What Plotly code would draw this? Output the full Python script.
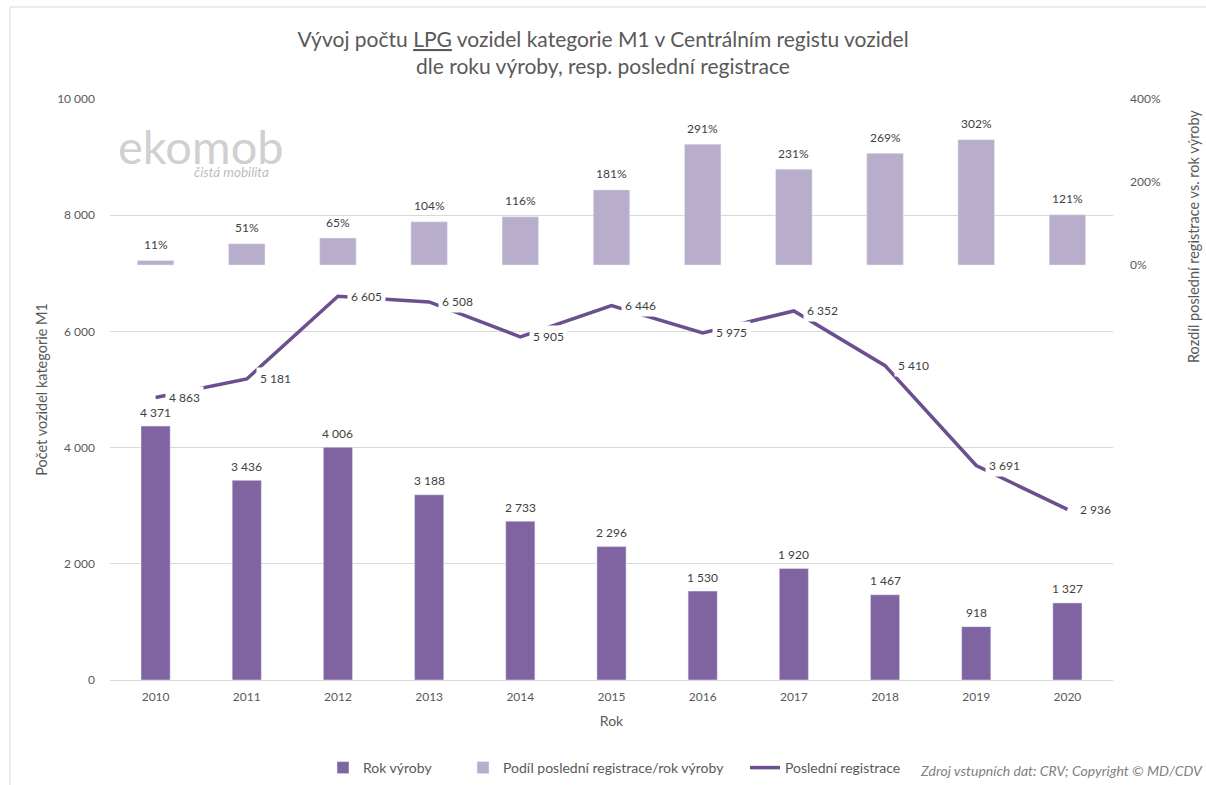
import plotly.graph_objects as go

years = ["2010", "2011", "2012", "2013", "2014", "2015", "2016", "2017", "2018", "2019", "2020"]
rok_vyroby = [4371, 3436, 4006, 3188, 2733, 2296, 1530, 1920, 1467, 918, 1327]
posledni_registrace = [4863, 5181, 6605, 6508, 5905, 6446, 5975, 6352, 5410, 3691, 2936]
podil = [11, 51, 65, 104, 116, 181, 291, 231, 269, 302, 121]
right_ticks = [0, 200, 400]

FONT = "Lato"
TXT = "#404040"
AX = "#595959"


def fmt(v):
    return f"{v:,}".replace(",", " ")


fig = go.Figure()

fig.add_trace(go.Bar(
    x=years, y=rok_vyroby, name="Rok výroby", yaxis="y", legend="legend", showlegend=True,
    marker=dict(color="#8064a2"), width=0.32,
))
fig.add_trace(go.Bar(
    x=years, y=podil, name="Podíl poslední registrace/rok výroby", yaxis="y2", legend="legend2",
    showlegend=True, marker=dict(color="#b8adcb"), width=0.4,
))
fig.add_trace(go.Scatter(
    x=years, y=posledni_registrace, name="Poslední registrace", yaxis="y", legend="legend3",
    showlegend=True, mode="lines", line=dict(color="#6b4f8f", width=3.5),
))

annotations = []
# bar value labels
for i, v in enumerate(rok_vyroby):
    annotations.append(dict(
        x=i, y=v, xref="x", yref="y", text=fmt(v), showarrow=False,
        xanchor="center", yanchor="middle", yshift=14,
        font=dict(family=FONT, size=12, color=TXT),
    ))
for i, v in enumerate(podil):
    annotations.append(dict(
        x=i, y=v, xref="x", yref="y2", text=f"{v}%", showarrow=False,
        xanchor="center", yanchor="middle", yshift=16,
        font=dict(family=FONT, size=12, color=TXT),
    ))
# line labels with white background
for i, v in enumerate(posledni_registrace):
    annotations.append(dict(
        x=i, y=v, xref="x", yref="y", text=fmt(v),
        showarrow=False, xanchor="left", yanchor="middle", xshift=9,
        bgcolor="white", borderpad=3,
        font=dict(family=FONT, size=12, color=TXT),
    ))

# right axis title
annotations.append(dict(
    xref="paper", yref="paper", x=(1193 - 110) / 1003, y=(680 - 237) / 581,
    text="Rozdíl poslední registrace vs. rok výroby", textangle=-90,
    showarrow=False, xanchor="center", yanchor="middle",
    font=dict(family=FONT, size=14.5, color=AX),
))
# watermark
annotations.append(dict(
    xref="paper", yref="paper", x=(116 - 110) / 1003, y=(680 - 146) / 581,
    text="ekomob", showarrow=False, xanchor="left", yanchor="middle",
    font=dict(family=FONT, size=47, color="#d0d0d0"),
))
annotations.append(dict(
    xref="paper", yref="paper", x=(192 - 110) / 1003, y=(680 - 172) / 581,
    text="<i>čistá mobilita</i>", showarrow=False, xanchor="left", yanchor="middle",
    font=dict(family=FONT, size=13.5, color="#bdbdbd"),
))
# source
annotations.append(dict(
    xref="paper", yref="paper", x=(1205 - 110) / 1003, y=(680 - 770) / 581,
    text="<i>Zdroj vstupních dat: CRV; Copyright © MD/CDV</i>", showarrow=False,
    xanchor="right", yanchor="middle",
    font=dict(family=FONT, size=14, color="#7f7f7f"),
))

legend_common = dict(
    orientation="h", xanchor="left", y=(680 - 768) / 581, yanchor="middle",
    font=dict(family=FONT, size=14, color=AX), bgcolor="rgba(0,0,0,0)",
)

fig.update_layout(
    width=1206, height=785,
    margin=dict(l=110, r=93, t=99, b=105, autoexpand=False),
    paper_bgcolor="white", plot_bgcolor="white",
    separators=", ",
    barmode="overlay",
    showlegend=True,
    font=dict(family=FONT, size=12, color=AX),
    title=dict(
        text="Vývoj počtu <span style='text-decoration:underline'>LPG</span> vozidel kategorie M1 v Centrálním registu vozidel<br>dle roku výroby, resp. poslední registrace",
        x=0.5, xanchor="center", y=(785 - 47) / 785, yanchor="middle",
        font=dict(family=FONT, size=21, color=AX),
    ),
    xaxis=dict(
        type="category", range=[-0.5, 10.5], showgrid=False, showline=True,
        linecolor="#d9d9d9", linewidth=1,
        ticks="", ticklabelstandoff=6, tickfont=dict(family=FONT, size=12, color=AX),
        title=dict(text="Rok", font=dict(family=FONT, size=14, color=AX), standoff=12),
    ),
    yaxis=dict(
        range=[0, 10000], tickvals=[0, 2000, 4000, 6000, 8000, 10000], tickformat=",",
        showgrid=True, gridcolor="#d9d9d9", gridwidth=1, zeroline=False,
        ticks="", ticklabelstandoff=14, tickfont=dict(family=FONT, size=12, color=AX),
        title=dict(text="Počet vozidel kategorie M1", font=dict(family=FONT, size=14.5, color=AX), standoff=6),
    ),
    yaxis2=dict(
        overlaying="y", side="right", range=[-1000, 400],
        tickvals=right_ticks, ticktext=[f"{t}%" for t in right_ticks],
        showgrid=False, zeroline=False, ticks="", ticklabelstandoff=16,
        tickfont=dict(family=FONT, size=12, color=AX),
    ),
    legend=dict(legend_common, x=(323 - 110) / 1003),
    legend2=dict(legend_common, x=(463 - 110) / 1003),
    legend3=dict(legend_common, x=(745 - 110) / 1003),
    annotations=annotations,
    shapes=[dict(
        type="rect", xref="paper", yref="paper",
        x0=(10 - 110) / 1003, x1=(1260 - 110) / 1003,
        y0=(680 - 840) / 581, y1=(680 - 7) / 581,
        line=dict(color="#d9d9d9", width=1), layer="below",
    )],
)

fig.write_html(
    "out.html",
    config={"displayModeBar": False},
    post_script="document.body.style.margin='0';document.body.style.overflow='hidden';",
)
